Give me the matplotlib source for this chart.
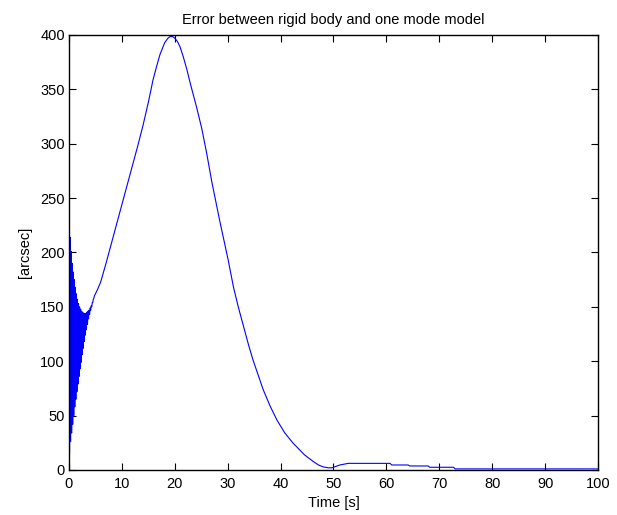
#!/usr/bin/env python3
"""
Erro entre modelo de corpo rigido e modelo de um modo
"""

import matplotlib
matplotlib.use("Agg")
import matplotlib.pyplot as plt
import numpy as np

# Trecho inicial oscilatorio (0 a 4.8 s): alterna pico / vale a cada 0.1 s
OSC_T = [0.0, 0.1, 0.2, 0.3, 0.4, 0.5, 0.6, 0.7, 0.8, 0.9,
         1.0, 1.1, 1.2, 1.3, 1.4, 1.5, 1.6, 1.7, 1.8, 1.9,
         2.0, 2.1, 2.2, 2.3, 2.4, 2.5, 2.6, 2.7, 2.8, 2.9,
         3.0, 3.1, 3.2, 3.3, 3.4, 3.5, 3.6, 3.7, 3.8, 3.9,
         4.0, 4.1, 4.2, 4.3, 4.4, 4.5, 4.6, 4.7, 4.8]
OSC_Y = [224, 15, 214, 26, 201, 34, 190, 42, 182, 50,
         175, 58, 168, 65, 162, 72, 157, 79, 153, 86,
         150, 93, 148, 99, 146, 106, 145, 112, 144, 118,
         144, 124, 144, 129, 145, 134, 146, 139, 147, 143,
         149, 147, 151, 150, 154, 154, 157, 158, 160]

# Curva principal (s, arcsec)
MAIN_T = [5.4, 6.0, 7.0, 8.0, 9.0, 10.0, 11.0, 12.0, 13.0, 14.0,
          15.0, 15.9, 16.5, 17.2, 18.1, 18.7, 19.1, 19.6, 20.0, 20.5,
          21.0, 21.6, 22.3, 22.9, 24.1, 25.1, 26.0, 27.0, 28.5, 30.1,
          31.1, 32.0, 33.0, 34.0, 34.8, 36.7, 38.0, 39.3, 40.8, 42.4,
          44.5, 46.2, 47.2, 48.1, 49.0, 49.7, 51.2, 52.8, 60.7, 61.0,
          64.1, 64.4, 67.9, 68.2, 72.7, 73.0, 100.0]
MAIN_Y = [166, 173, 190, 208, 226, 244, 262, 280, 298, 317,
          338, 359, 370, 382, 393, 397, 398.5, 398.5, 397, 394,
          389, 380, 368, 356, 334, 314, 292, 265, 229, 193,
          168, 150, 132, 114, 101, 74, 59, 46, 34, 24.5,
          14, 7.7, 4.5, 2.8, 2.0, 2.0, 4.6, 6.1, 6.1, 4.6,
          4.6, 3.7, 3.7, 2.5, 2.5, 1.0, 1.0]

X_TICKS = [0, 10, 20, 30, 40, 50, 60, 70, 80, 90, 100]
Y_TICKS = [0, 50, 100, 150, 200, 250, 300, 350, 400]

plt.rcParams['font.family'] = ['Liberation Sans', 'DejaVu Sans']

fig = plt.figure(figsize=(6.17, 5.15), dpi=100)
ax = fig.add_axes([0.1118, 0.0874, 0.8574, 0.8447])

t = np.array(OSC_T + MAIN_T)
y = np.array(OSC_Y + MAIN_Y)
ax.plot(t, y, color='#0000ff', linewidth=0.8)

ax.set_xlim(0, 100)
ax.set_ylim(0, 400)
ax.set_xticks(X_TICKS)
ax.set_yticks(Y_TICKS)
ax.tick_params(direction='in', length=5, width=0.8, labelsize=10.5,
               top=True, right=True, pad=3)
ax.tick_params(axis='x', pad=5)
for sp in ax.spines.values():
    sp.set_linewidth(1.0)

ax.set_title("Error between rigid body and one mode model", fontsize=10.5, pad=8)
ax.set_xlabel("Time [s]", fontsize=10.5, labelpad=4)
ax.set_ylabel("[arcsec]", fontsize=10.5, labelpad=6)

fig.savefig("out.png", dpi=100)
